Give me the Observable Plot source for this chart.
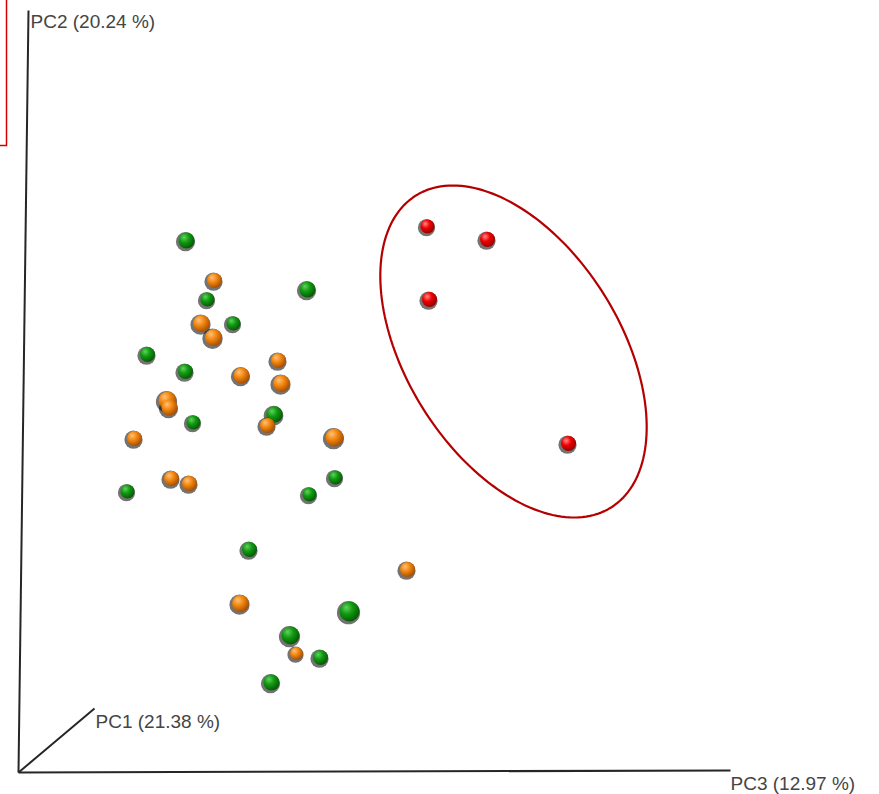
<!DOCTYPE html>
<html>
<head>
<meta charset="utf-8">
<script src="https://cdn.jsdelivr.net/npm/d3@7"></script>
<script src="https://cdn.jsdelivr.net/npm/@observablehq/plot@0.6"></script>
<style>
  body { margin: 0; background: #fff; }
  #chart svg { display: block; }
</style>
</head>
<body>
<div id="chart"></div>
<script>
// 3-D PCA scores projected onto the screen plane (horizontal ≈ PC3, vertical ≈ PC2);
// the third axis (PC1) points into the screen and shows up as sphere size.
const greenX     = [186, 307, 207, 233, 147, 185, 193, 274, 127, 335, 309, 249, 349, 290, 320, 271];
const greenY     = [240, 289, 299, 323, 354, 371, 422, 414, 491, 477, 494, 549, 611, 635, 657, 682];
const greenDepth = [8, 8, 7, 7, 7.5, 7.5, 7, 8.3, 7, 7, 7, 7.5, 10, 9, 7.5, 8];

const orangeX     = [214, 201, 213, 278, 241, 281, 169, 167, 267, 334, 134, 171, 189, 407, 240, 296];
const orangeY     = [280, 323, 337, 360, 375, 383, 407, 400, 425, 437, 438, 478, 483, 569, 603, 653];
const orangeDepth = [7.5, 8.5, 8.6, 7.5, 8, 8.5, 8, 9, 7.5, 9, 7.5, 7.5, 7.5, 7.5, 8.5, 6.5];

const redX     = [427, 487, 429, 568];
const redY     = [226, 239, 299, 443];
const redDepth = [7, 7.5, 7.5, 7.5];

// Projected axis frame
const axisOrigin = [18, 772];
const axisEnds = [[94, 708], [28, 10], [730, 770]];
const axisLabels = ["PC1 (21.38 %)", "PC2 (20.24 %)", "PC3 (12.97 %)"];
const labelPos = [[95, 721], [30, 21], [730, 783]];

// Confidence ellipse drawn around the red group
const ellipseCenter = [513, 351];
const ellipseAxes = [184, 107];
const ellipseAngle = 58; // degrees, clockwise on screen

// Highlight box at the upper-left corner
const boxExtent = {x1: -20, x2: 6.5, y1: -20, y2: 145.5};

const W = 879, H = 794;

function rows(xs, ys, ds, group) {
  return xs.map((x, i) => ({x, y: ys[i], depth: ds[i], group}));
}
// Painter's order: smaller (farther) spheres first
const samples = [
  ...rows(greenX, greenY, greenDepth, "green"),
  ...rows(orangeX, orangeY, orangeDepth, "orange"),
  ...rows(redX, redY, redDepth, "red")
].sort((a, b) => a.depth - b.depth);

const axisSegments = axisEnds.map((e, i) => ({x1: axisOrigin[0], y1: axisOrigin[1], x2: e[0], y2: e[1], label: axisLabels[i]}));
const labels = axisLabels.map((t, i) => ({x: labelPos[i][0], y: labelPos[i][1], text: t}));

const th = ellipseAngle * Math.PI / 180;
const ellipsePath = d3.range(0, 361, 2).map(deg => {
  const t = deg * Math.PI / 180;
  const u = ellipseAxes[0] * Math.cos(t), v = ellipseAxes[1] * Math.sin(t);
  return {x: ellipseCenter[0] + u * Math.cos(th) - v * Math.sin(th),
          y: ellipseCenter[1] + u * Math.sin(th) + v * Math.cos(th)};
});

const plot = Plot.plot({
  width: W,
  height: H,
  margin: 0,
  style: {fontFamily: "'Liberation Sans', Arial, sans-serif", background: "#fff", overflow: "visible"},
  x: {domain: [0, W], range: [0, W], axis: null},
  y: {domain: [0, H], range: [0, H], axis: null},
  r: {type: "linear", domain: [0, 10], range: [0, 10]},
  color: {type: "identity"},
  marks: [
    Plot.rect([boxExtent], {x1: "x1", x2: "x2", y1: "y1", y2: "y2", fill: "none", stroke: "#d40000", strokeWidth: 1.5}),
    Plot.link(axisSegments, {x1: "x1", y1: "y1", x2: "x2", y2: "y2", stroke: "#262626", strokeWidth: 2}),
    Plot.text(labels, {x: "x", y: "y", text: "text", textAnchor: "start", fontSize: 19, fill: "#454545"}),
    Plot.line(ellipsePath, {x: "x", y: "y", curve: "linear-closed", stroke: "#b40000", strokeWidth: 2.2, fill: "none"}),
    Plot.dot(samples, {x: "x", y: "y", r: d => d.depth + 1.6, dx: -1, dy: 1.2, fill: "#000", fillOpacity: 0.55, stroke: "none", ariaLabel: "sphere shadow"}),
    Plot.dot(samples, {x: "x", y: "y", r: "depth", fill: d => `url(#sphere-${d.group})`, stroke: "none", ariaLabel: "sphere"})
  ]
});

// Gradient shading for the spheres and a soft blur for their shadows
const svg = d3.select(plot);
const defs = svg.insert("defs", ":first-child");
const shades = {
  green:  ["#5fd35f", "#129a12", "#045804"],
  orange: ["#ffc27a", "#f3870f", "#a34c00"],
  red:    ["#ff8a8a", "#f20000", "#8e0000"]
};
for (const [g, [hi, mid, lo]] of Object.entries(shades)) {
  const grad = defs.append("radialGradient").attr("id", `sphere-${g}`)
    .attr("cx", "38%").attr("cy", "35%").attr("r", "68%").attr("fx", "34%").attr("fy", "30%");
  grad.append("stop").attr("offset", "0%").attr("stop-color", hi);
  grad.append("stop").attr("offset", "45%").attr("stop-color", mid);
  grad.append("stop").attr("offset", "100%").attr("stop-color", lo);
}
defs.append("filter").attr("id", "sphere-blur").attr("x", "-50%").attr("y", "-50%").attr("width", "200%").attr("height", "200%")
  .append("feGaussianBlur").attr("stdDeviation", 1.2);
svg.select('g[aria-label="sphere shadow"]').attr("filter", "url(#sphere-blur)");

document.getElementById("chart").appendChild(plot);
</script>
</body>
</html>
